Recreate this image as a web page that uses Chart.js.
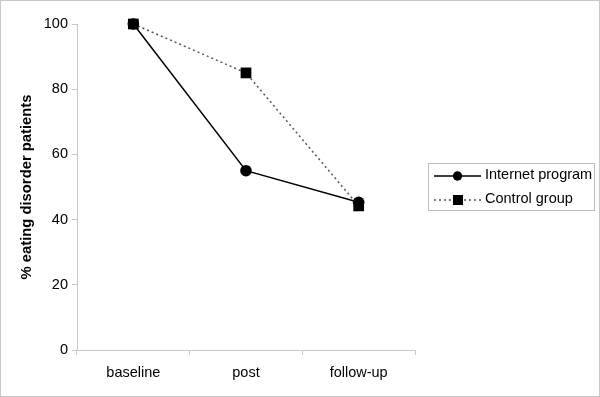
<!DOCTYPE html>
<html>
<head>
  <title>Eating disorder patients</title>
  <style>
    body { margin: 0; background: #fff; }
    #wrap { width: 600px; height: 397px; }
  </style>
  <script src="https://cdn.jsdelivr.net/npm/chart.js"></script>
</head>
<body>
  <div id="wrap"><canvas id="chart" width="600" height="397"></canvas></div>
  <script>
    const categories = ['baseline', 'post', 'follow-up'];
    const internetProgram = [100, 55, 45.3];
    const controlGroup = [100, 85, 44.2];
    const yTicks = [0, 20, 40, 60, 80, 100];

    const font = {family: 'Liberation Sans, Arial, sans-serif', size: 14.5};

    // legend box on the right, drawn by hand like the original
    const boxLegend = {
      id: 'boxLegend',
      afterDraw(chart) {
        const ctx = chart.ctx;
        ctx.save();
        // outer frame
        ctx.strokeStyle = '#c8c8c8';
        ctx.lineWidth = 1;
        ctx.strokeRect(0.5, 0.5, 599, 396);
        // legend frame
        ctx.strokeStyle = '#bdbdbd';
        ctx.strokeRect(428.5, 163.5, 166, 47);
        ctx.font = '14.5px Liberation Sans, Arial, sans-serif';
        ctx.fillStyle = '#000';
        ctx.textBaseline = 'middle';
        // Internet program
        ctx.strokeStyle = '#000';
        ctx.lineWidth = 1.5;
        ctx.beginPath(); ctx.moveTo(434, 176); ctx.lineTo(481, 176); ctx.stroke();
        ctx.beginPath(); ctx.arc(457.5, 176, 4.7, 0, Math.PI * 2); ctx.fill();
        ctx.fillText('Internet program', 485, 175);
        // Control group
        ctx.strokeStyle = '#555';
        ctx.setLineDash([2, 3]);
        ctx.beginPath(); ctx.moveTo(434, 200); ctx.lineTo(481, 200); ctx.stroke();
        ctx.setLineDash([]);
        ctx.fillRect(453, 195, 10, 10);
        ctx.fillText('Control group', 485, 199);
        ctx.restore();
      }
    };

    new Chart(document.getElementById('chart'), {
      type: 'line',
      data: {
        labels: categories,
        datasets: [{
          label: 'Internet program',
          data: internetProgram,
          borderColor: '#000',
          backgroundColor: '#000',
          borderWidth: 1.5,
          pointStyle: 'circle',
          pointRadius: 5.8,
          pointBorderWidth: 0,
          tension: 0,
          order: 2
        }, {
          label: 'Control group',
          data: controlGroup,
          borderColor: '#555',
          backgroundColor: '#000',
          borderWidth: 1.5,
          borderDash: [2, 3],
          pointStyle: 'rect',
          pointRadius: 7.6,
          pointBorderWidth: 0,
          tension: 0,
          order: 1
        }]
      },
      options: {
        responsive: false,
        animation: false,
        clip: false,
        layout: {padding: {left: 0, right: 185, top: 24, bottom: 0}},
        plugins: {legend: {display: false}, tooltip: {enabled: false}},
        scales: {
          x: {
            offset: true,
            grid: {display: true, drawOnChartArea: false, offset: true, color: '#c8c8c8', tickLength: 5},
            border: {color: '#c8c8c8'},
            ticks: {color: '#000', font: font, padding: 9},
            afterFit(s) { s.height = 47; }
          },
          y: {
            min: 0,
            max: 100,
            afterBuildTicks(s) { s.ticks = yTicks.map(v => ({value: v})); },
            grid: {display: true, drawOnChartArea: false, color: '#c8c8c8', tickLength: 5},
            border: {color: '#c8c8c8'},
            ticks: {color: '#000', font: font, padding: 4},
            title: {display: true, text: '% eating disorder patients', color: '#000',
                    font: {family: font.family, size: 14.8, weight: 'bold'}, padding: {top: 18, bottom: 10}},
            afterFit(s) { s.width = 77; }
          }
        }
      },
      plugins: [boxLegend]
    });
  </script>
</body>
</html>
